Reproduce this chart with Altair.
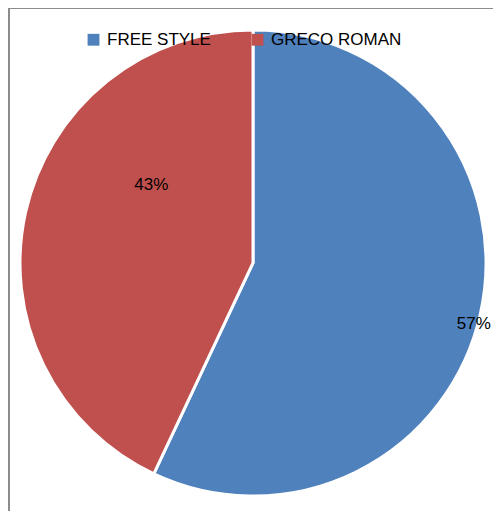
import altair as alt
import pandas as pd

categories = ["FREE STYLE", "GRECO ROMAN"]
values = [57, 43]
labels = ["57%", "43%"]
colors = ["#4F81BD", "#C0504D"]

df = pd.DataFrame({"style": categories, "value": values, "label": labels,
                   "order": [0, 1]})

W, H = 485, 503
CX, CY, R = 245, 255, 233

pie = alt.Chart(df).mark_arc(radius=R, stroke="white", strokeWidth=3).encode(
    theta=alt.Theta("value:Q", stack=True),
    order=alt.Order("order:Q"),
    x=alt.value(CX), y=alt.value(CY),
    color=alt.Color("style:N", sort=categories,
                    scale=alt.Scale(domain=categories, range=colors),
                    legend=alt.Legend(orient="none", legendX=77, legendY=23,
                                      direction="horizontal", title=None,
                                      symbolType="square", symbolSize=140,
                                      symbolStrokeWidth=0,
                                      labelFont="Liberation Sans", labelFontSize=17,
                                      labelColor="#000000", gridAlign="all",
                                      columnPadding=11, labelOffset=5,
                                      labelLimit=300))
)

text_base = alt.Chart(df).transform_joinaggregate(
    total="sum(value)"
).transform_window(
    cum="sum(value)", sort=[alt.SortField("order")], frame=[None, 0]
).transform_calculate(
    mid="(datum.cum - datum.value / 2) / datum.total"
).encode(
    theta=alt.Theta("mid:Q", stack=None, scale=alt.Scale(domain=[0, 1])),
    x=alt.value(CX), y=alt.value(CY),
    text="label:N",
)

lab57 = text_base.transform_filter(alt.datum.style == "FREE STYLE").mark_text(
    radius=229, font="Liberation Sans", fontSize=17, color="#000000",
    thetaOffset=0.049
)

lab43 = text_base.transform_filter(alt.datum.style == "GRECO ROMAN").mark_text(
    radius=128, font="Liberation Sans", fontSize=17, color="#000000",
    thetaOffset=0.433
)

left_rule = alt.Chart(df).mark_rule(color="#8c8c8c", strokeWidth=2).encode(
    x=alt.value(1), y=alt.value(0), y2=alt.value(H))
top_rule = alt.Chart(df).mark_rule(color="#8c8c8c", strokeWidth=2).encode(
    x=alt.value(0), x2=alt.value(W), y=alt.value(0))

chart = alt.layer(pie, lab57, lab43, left_rule, top_rule).resolve_scale(
    theta="independent"
).properties(
    width=W, height=H, padding=0, autosize=alt.AutoSizeParams(type="none")
).configure_view(stroke=None)

chart.save("out.html", embed_options={"renderer": "svg", "actions": False})
